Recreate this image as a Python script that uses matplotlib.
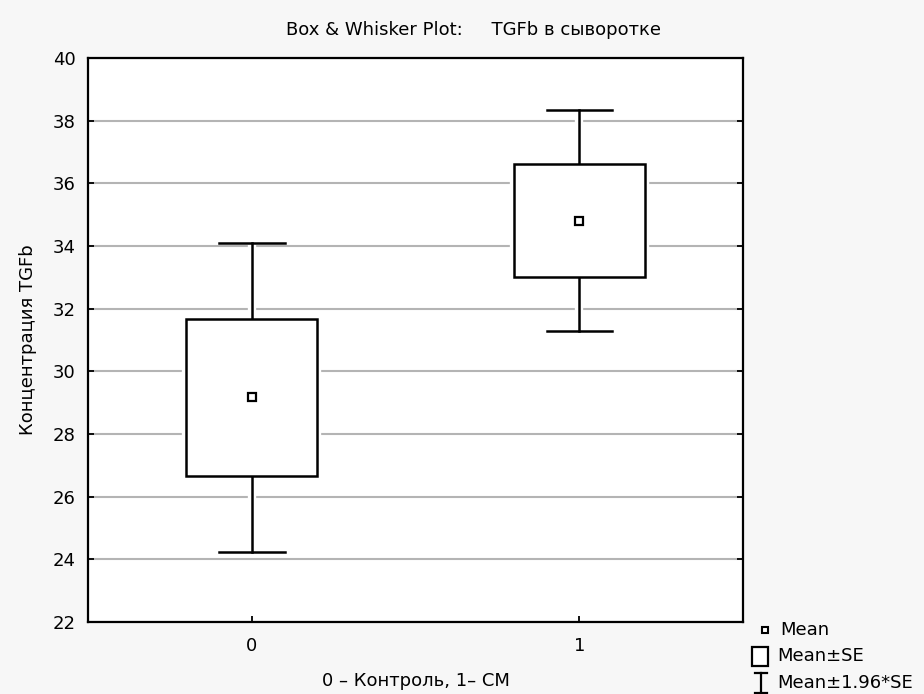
import matplotlib.pyplot as plt
from matplotlib.patches import Rectangle
from matplotlib.lines import Line2D

plt.rcParams['font.family'] = ['DejaVu Sans']

# group codes on the x axis
groups = [0, 1]
group_labels = ['0', '1']
# mean, mean±SE (box), mean±1.96*SE (whiskers)
means = [29.17, 34.81]
se_low = [26.66, 33.02]
se_high = [31.67, 36.62]
ci_low = [24.22, 31.30]
ci_high = [34.11, 38.34]

W, H = 924, 694
fig = plt.figure(figsize=(W / 100, H / 100), dpi=100, facecolor='#f7f7f7')
ax = fig.add_axes([88 / W, 72 / H, (743 - 88) / W, (622 - 58) / H])
ax.set_facecolor('white')

for g, m, lo, hi, clo, chi in zip(groups, means, se_low, se_high, ci_low, ci_high):
    # white gaps in the grid around the marks
    ax.plot([g, g], [clo, chi], color='white', lw=6, zorder=2, solid_capstyle='butt')
    ax.add_patch(Rectangle((g - 0.2, lo), 0.4, hi - lo, facecolor='white', edgecolor='white',
                           lw=6, zorder=2))
    # whiskers + caps
    ax.plot([g, g], [hi, chi], color='black', lw=1.8, zorder=3)
    ax.plot([g, g], [clo, lo], color='black', lw=1.8, zorder=3)
    ax.plot([g - 0.1, g + 0.1], [chi, chi], color='black', lw=1.8, zorder=3)
    ax.plot([g - 0.1, g + 0.1], [clo, clo], color='black', lw=1.8, zorder=3)
    # box
    ax.add_patch(Rectangle((g - 0.2, lo), 0.4, hi - lo, facecolor='white', edgecolor='black',
                           lw=1.8, zorder=3))
    # mean
    ax.plot(g, m, marker='s', ms=6, mfc='white', mec='black', mew=1.6, zorder=4)

ax.set_xlim(-0.5, 1.5)
ax.set_ylim(22, 40)
ax.set_xticks(groups)
ax.set_xticklabels(group_labels)
ax.set_yticks(range(22, 41, 2))
ax.yaxis.grid(True, color='#b4b4b4', lw=1.5)
ax.set_axisbelow(True)
ax.tick_params(direction='in', length=4, width=1.3, right=True, labelsize=13, colors='black')
ax.tick_params(axis='y', pad=9)
ax.tick_params(axis='x', pad=11)
for s in ax.spines.values():
    s.set_linewidth(1.6)

ax.set_xlabel('0 – Контроль, 1– СМ', fontsize=13, labelpad=12)
ax.set_ylabel('Концентрация TGFb', fontsize=13, labelpad=11)

fig.text(474 / W, 1 - 30 / H, 'Box & Whisker Plot:     TGFb в сыворотке',
         ha='center', va='center', fontsize=13)

# legend drawn by hand below the plot corner
def fx(x):
    return x / W

def fy(y):
    return 1 - y / H

fig.add_artist(Line2D([fx(765)], [fy(630)], marker='s', ms=5, mfc='white', mec='black',
                      mew=1.5, transform=fig.transFigure))
fig.text(fx(780), fy(630), 'Mean', fontsize=13, va='center')
fig.add_artist(Rectangle((fx(752), fy(666)), (768 - 752) / W, (666 - 647) / H,
                         facecolor='white', edgecolor='black', lw=1.6, transform=fig.transFigure))
fig.text(fx(777), fy(656), 'Mean±SE', fontsize=13, va='center')
fig.add_artist(Line2D([fx(761), fx(761)], [fy(673), fy(693)], color='black', lw=1.6,
                      transform=fig.transFigure))
fig.add_artist(Line2D([fx(755), fx(767)], [fy(673), fy(673)], color='black', lw=1.6,
                      transform=fig.transFigure))
fig.add_artist(Line2D([fx(755), fx(767)], [fy(693), fy(693)], color='black', lw=1.6,
                      transform=fig.transFigure))
fig.text(fx(777), fy(683), 'Mean±1.96*SE', fontsize=13, va='center')

fig.savefig('out.png', dpi=100, facecolor=fig.get_facecolor())
